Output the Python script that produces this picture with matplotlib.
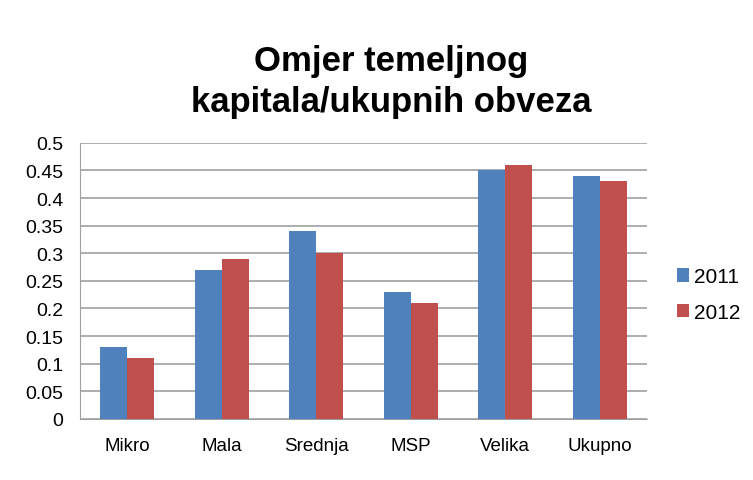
import numpy as np
import matplotlib.pyplot as plt

categories = ['Mikro', 'Mala', 'Srednja', 'MSP', 'Velika', 'Ukupno']
values_2011 = [0.13, 0.27, 0.34, 0.23, 0.45, 0.44]
values_2012 = [0.11, 0.29, 0.30, 0.21, 0.46, 0.43]
series_labels = ['2011', '2012']
yticks = [0, 0.05, 0.1, 0.15, 0.2, 0.25, 0.3, 0.35, 0.4, 0.45, 0.5]
ytick_labels = ['0', '0.05', '0.1', '0.15', '0.2', '0.25', '0.3', '0.35', '0.4', '0.45', '0.5']

plt.rcParams['font.family'] = ['Liberation Sans', 'DejaVu Sans']

fig = plt.figure(figsize=(7.53, 4.81), dpi=100)
ax = fig.add_axes([0.106, 0.127, 0.753, 0.574])

x = np.arange(len(categories))
w = 0.285
ax.bar(x - w / 2, values_2011, w, color='#4F81BD', label=series_labels[0], zorder=3)
ax.bar(x + w / 2, values_2012, w, color='#C0504D', label=series_labels[1], zorder=3)

ax.set_xlim(-0.5, len(categories) - 0.5)
ax.set_ylim(0, 0.5)
ax.set_yticks(yticks)
ax.set_yticklabels(ytick_labels, fontsize=14)
ax.set_xticks(x)
ax.set_xticklabels(categories, fontsize=13.5)
ax.tick_params(axis='x', length=0, pad=13)
ax.tick_params(axis='y', length=0, pad=12)
ax.grid(axis='y', color='#a0a0a0', linewidth=1.2, zorder=0)

for s in ['top', 'right']:
    ax.spines[s].set_visible(False)
ax.spines['left'].set_color('#a0a0a0')
ax.spines['bottom'].set_color('#a0a0a0')

fig.text(0.52, 0.83, 'Omjer temeljnog\nkapitala/ukupnih obveza', ha='center', va='center',
         fontsize=25, fontweight='bold', linespacing=1.3)

ax.legend(loc='center left', bbox_to_anchor=(1.02, 0.45), frameon=False, fontsize=15,
          handlelength=0.6, handleheight=0.6, handletextpad=0.2, labelspacing=0.8)

fig.savefig('out.png', dpi=100)
